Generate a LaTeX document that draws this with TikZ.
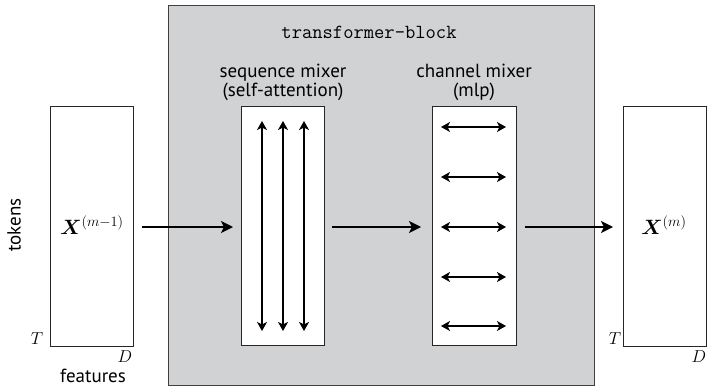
\documentclass[tikz,border=0pt]{standalone}
\usepackage{fontspec}
\usepackage{amsmath}
\usepackage{bm}
\setsansfont{PT Sans}
\usetikzlibrary{arrows.meta}
\definecolor{blockgray}{RGB}{209,210,212}
\begin{document}
\begin{tikzpicture}[x=1pt,y=-1pt,
  mat/.style={draw=black!85,line width=1.3pt,fill=white},
  blockbox/.style={draw=black!75,line width=1.4pt,fill=blockgray},
  arr/.style={-{Stealth[length=12pt,width=12pt,inset=3pt]},line width=1.4pt},
  darr/.style={{Stealth[length=9pt,width=10pt,inset=2.5pt]}-{Stealth[length=9pt,width=10pt,inset=2.5pt]},line width=1.2pt},
  lab/.style={font=\sffamily\fontsize{19}{19}\selectfont,align=center},
  mlab/.style={font=\fontsize{20}{22}\selectfont},
  dim/.style={font=\fontsize{18}{18}\selectfont}]
\useasboundingbox (0,0) rectangle (712,388);
% block
\node[blockbox,minimum width=426pt,minimum height=380pt,anchor=north west] (blk) at (168,5) {};
\node[font=\ttfamily\fontsize{20}{20}\selectfont] (title) at (369,32) {transformer-block};
% left and right matrices
\node[mat,minimum width=83pt,minimum height=240pt,anchor=north west] (xin) at (50,106) {};
\node[mat,minimum width=83pt,minimum height=240pt,anchor=north west] (xout) at (623,106) {};
\node[mlab] (xinl) at (92,225) {$\bm{X}^{(m-1)}$};
\node[mlab] (xoutl) at (664,225) {$\bm{X}^{(m)}$};
\node[dim] (t1) at (37,339) {$T$};
\node[dim] (d1) at (125,357) {$D$};
\node[dim] (t2) at (615,339) {$T$};
\node[dim] (d2) at (699,357) {$D$};
\node[lab,rotate=90] (tok) at (14,225) {tokens};
\node[lab] (feat) at (93,376) {features};
% mixers
\node[mat,minimum width=83pt,minimum height=239pt,anchor=north west] (seq) at (241,106) {};
\node[mat,minimum width=84pt,minimum height=239pt,anchor=north west] (chan) at (432,106) {};
\node[lab] (seql) at (283,82) {sequence mixer\\(self-attention)};
\node[lab] (chanl) at (474,82) {channel mixer\\(mlp)};
% vertical arrows
\foreach \x/\n in {262/a,283/b,304/c}{
  \coordinate (v\n1) at (\x,121);
  \coordinate (v\n2) at (\x,331);
  \draw[darr] (v\n1) -- (v\n2);
}
% horizontal arrows
\foreach \y/\n in {127/a,177/b,227/c,277/d,326/e}{
  \coordinate (h\n1) at (441,\y);
  \coordinate (h\n2) at (506,\y);
  \draw[darr] (h\n1) -- (h\n2);
}
% main flow
\coordinate (a1) at (142,227);
\coordinate (a2) at (332,227);
\coordinate (a3) at (525,227);
\draw[arr] (a1) -- ([xshift=-8pt]seq.west|-a1);
\draw[arr] (a2) -- ([xshift=-11pt]chan.west|-a2);
\draw[arr] (a3) -- ([xshift=-10pt]xout.west|-a3);
\end{tikzpicture}
\end{document}
